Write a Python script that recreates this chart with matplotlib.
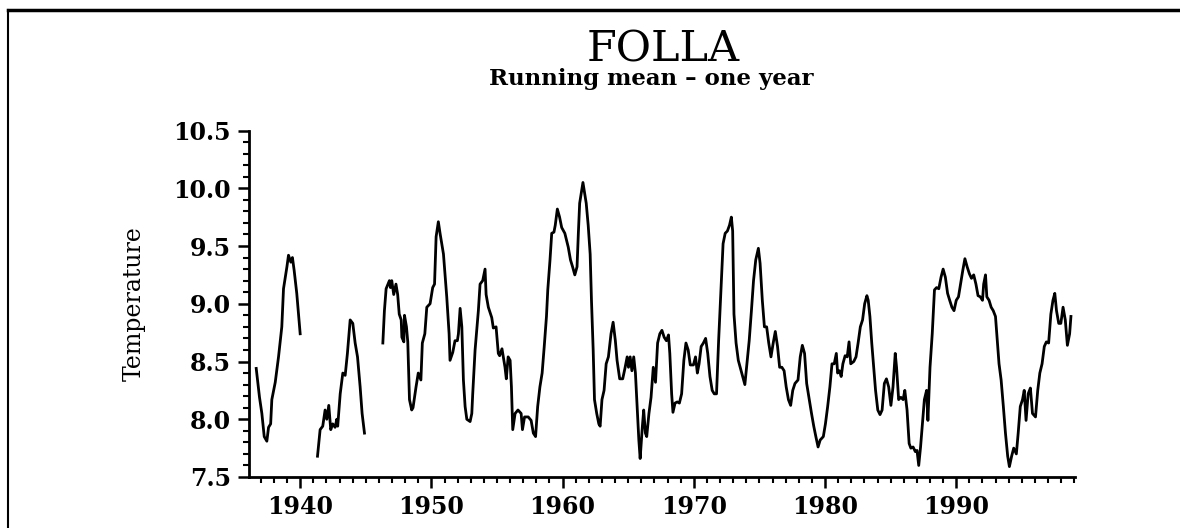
import numpy as np
import matplotlib
matplotlib.use("Agg")
from matplotlib import pyplot as plt
from matplotlib.lines import Line2D
from matplotlib.ticker import MultipleLocator

# Folla - løpende middel over ett år, nan = brudd i serien
years = [
    1936.65, 1936.9, 1937.08, 1937.26, 1937.46, 1937.59, 1937.75, 1937.84, 1938.1, 1938.35,
    1938.6, 1938.73, 1938.99, 1939.11, 1939.29, 1939.41, 1939.54, 1939.74, 1940.0,
    np.nan,
    1941.32, 1941.52, 1941.72, 1941.9, 1942.03, 1942.18, 1942.33, 1942.48, 1942.66, 1942.79,
    1942.86, 1943.05, 1943.25, 1943.43, 1943.6, 1943.81, 1944.01, 1944.19, 1944.37, 1944.57,
    1944.72, 1944.9,
    np.nan,
    1946.3, 1946.42, 1946.55, 1946.8, 1946.88, 1946.98, 1947.13, 1947.3, 1947.43, 1947.55,
    1947.7, 1947.75, 1947.9, 1947.95, 1948.1, 1948.2, 1948.33, 1948.5, 1948.6, 1948.83,
    1949.0, 1949.2, 1949.31, 1949.5, 1949.65, 1949.9, 1950.1, 1950.24, 1950.36, 1950.53,
    1950.66, 1950.92, 1951.17, 1951.35, 1951.42, 1951.63, 1951.8, 1951.98, 1952.06, 1952.19,
    1952.32, 1952.44, 1952.57, 1952.7, 1952.95, 1953.08, 1953.15, 1953.33, 1953.58, 1953.71,
    1953.91, 1954.09, 1954.17, 1954.34, 1954.6, 1954.72, 1954.93, 1955.1, 1955.2, 1955.38,
    1955.61, 1955.71, 1955.85, 1956.0, 1956.1, 1956.2, 1956.38, 1956.6, 1956.84, 1956.94,
    1957.1, 1957.38, 1957.6, 1957.77, 1957.94, 1958.1, 1958.27, 1958.44, 1958.6, 1958.77,
    1958.87, 1959.04, 1959.17, 1959.34, 1959.44, 1959.6, 1959.77, 1959.93, 1960.17, 1960.43,
    1960.6, 1960.76, 1960.93, 1961.1, 1961.2, 1961.3, 1961.55, 1961.8, 1961.95, 1962.1,
    1962.2, 1962.33, 1962.43, 1962.6, 1962.76, 1962.86, 1963.0, 1963.16, 1963.32, 1963.49,
    1963.69, 1963.85, 1964.02, 1964.15, 1964.35, 1964.58, 1964.75, 1964.92, 1965.02, 1965.15,
    1965.28, 1965.42, 1965.55, 1965.68, 1965.81, 1965.91, 1966.08, 1966.18, 1966.31, 1966.41,
    1966.58, 1966.74, 1966.91, 1967.08, 1967.24, 1967.41, 1967.57, 1967.74, 1967.91, 1968.07,
    1968.17, 1968.31, 1968.41, 1968.57, 1968.74, 1968.9, 1969.07, 1969.24, 1969.4, 1969.57,
    1969.73, 1969.97, 1970.13, 1970.27, 1970.4, 1970.56, 1970.73, 1970.9, 1971.06, 1971.23,
    1971.4, 1971.56, 1971.73, 1971.89, 1972.06, 1972.23, 1972.39, 1972.56, 1972.72, 1972.86,
    1972.96, 1973.06, 1973.22, 1973.39, 1973.65, 1973.89, 1974.05, 1974.22, 1974.39, 1974.55,
    1974.72, 1974.92, 1975.05, 1975.22, 1975.38, 1975.55, 1975.71, 1975.88, 1976.05, 1976.21,
    1976.38, 1976.54, 1976.71, 1976.88, 1977.04, 1977.21, 1977.38, 1977.54, 1977.71, 1977.94,
    1978.11, 1978.27, 1978.44, 1978.6, 1978.77, 1978.97, 1979.14, 1979.3, 1979.47, 1979.63,
    1979.87, 1980.03, 1980.2, 1980.37, 1980.53, 1980.7, 1980.86, 1980.96, 1981.1, 1981.23,
    1981.36, 1981.53, 1981.69, 1981.83, 1981.96, 1982.19, 1982.36, 1982.52, 1982.69, 1982.86,
    1983.02, 1983.19, 1983.29, 1983.42, 1983.56, 1983.69, 1983.85, 1984.02, 1984.19, 1984.35,
    1984.52, 1984.68, 1984.85, 1985.02, 1985.18, 1985.35, 1985.45, 1985.61, 1985.78, 1985.95,
    1986.08, 1986.25, 1986.41, 1986.54, 1986.71, 1986.88, 1987.01, 1987.14, 1987.28, 1987.41,
    1987.57, 1987.74, 1987.84, 1988.0, 1988.17, 1988.34, 1988.5, 1988.67, 1988.84, 1989.0,
    1989.17, 1989.34, 1989.5, 1989.67, 1989.83, 1990.0, 1990.17, 1990.33, 1990.5, 1990.66,
    1990.83, 1991.0, 1991.16, 1991.33, 1991.5, 1991.66, 1991.83, 1992.0, 1992.09, 1992.23,
    1992.33, 1992.5, 1992.66, 1992.82, 1992.99, 1993.09, 1993.26, 1993.42, 1993.59, 1993.75,
    1993.92, 1994.05, 1994.22, 1994.38, 1994.58, 1994.72, 1994.88, 1995.05, 1995.18, 1995.32,
    1995.48, 1995.65, 1995.81, 1996.04, 1996.21, 1996.37, 1996.54, 1996.71, 1996.87, 1997.04,
    1997.21, 1997.37, 1997.51, 1997.64, 1997.81, 1997.97, 1998.14, 1998.31, 1998.47, 1998.64,
    1998.74,
]
temps = [
    8.44, 8.19, 8.05, 7.85, 7.81, 7.93, 7.96, 8.17, 8.32, 8.54,
    8.80, 9.13, 9.32, 9.42, 9.36, 9.40, 9.29, 9.09, 8.74,
    np.nan,
    7.68, 7.91, 7.94, 8.08, 8.00, 8.12, 7.91, 7.96, 7.93, 8.00,
    7.94, 8.22, 8.40, 8.38, 8.57, 8.86, 8.83, 8.66, 8.54, 8.28,
    8.05, 7.88,
    np.nan,
    8.66, 8.94, 9.13, 9.20, 9.14, 9.20, 9.08, 9.17, 9.08, 8.91,
    8.86, 8.71, 8.67, 8.90, 8.80, 8.67, 8.17, 8.08, 8.10, 8.28,
    8.40, 8.34, 8.66, 8.74, 8.97, 9.00, 9.14, 9.17, 9.58, 9.71,
    9.61, 9.43, 9.06, 8.74, 8.51, 8.58, 8.68, 8.68, 8.74, 8.96,
    8.80, 8.34, 8.11, 8.00, 7.98, 8.05, 8.22, 8.60, 8.94, 9.17,
    9.20, 9.30, 9.08, 8.97, 8.88, 8.79, 8.80, 8.57, 8.55, 8.61,
    8.45, 8.35, 8.54, 8.51, 8.28, 7.91, 8.05, 8.08, 8.05, 7.91,
    8.02, 8.02, 7.99, 7.88, 7.85, 8.11, 8.28, 8.40, 8.63, 8.89,
    9.12, 9.38, 9.61, 9.62, 9.68, 9.82, 9.75, 9.66, 9.61, 9.49,
    9.38, 9.32, 9.25, 9.32, 9.61, 9.87, 10.05, 9.87, 9.68, 9.43,
    9.03, 8.60, 8.17, 8.05, 7.96, 7.94, 8.17, 8.25, 8.48, 8.54,
    8.74, 8.84, 8.68, 8.51, 8.35, 8.35, 8.44, 8.54, 8.45, 8.54,
    8.42, 8.54, 8.40, 8.11, 7.82, 7.66, 7.94, 8.08, 7.88, 7.85,
    8.05, 8.19, 8.45, 8.32, 8.66, 8.74, 8.77, 8.71, 8.68, 8.73,
    8.57, 8.22, 8.06, 8.14, 8.15, 8.14, 8.22, 8.51, 8.66, 8.60,
    8.47, 8.47, 8.54, 8.40, 8.48, 8.63, 8.66, 8.70, 8.57, 8.37,
    8.25, 8.22, 8.22, 8.68, 9.09, 9.52, 9.61, 9.63, 9.68, 9.75,
    9.63, 8.91, 8.66, 8.51, 8.40, 8.30, 8.48, 8.68, 8.94, 9.20,
    9.38, 9.48, 9.35, 9.03, 8.80, 8.80, 8.66, 8.54, 8.66, 8.76,
    8.63, 8.45, 8.45, 8.42, 8.28, 8.17, 8.12, 8.25, 8.31, 8.34,
    8.54, 8.64, 8.57, 8.31, 8.19, 8.05, 7.94, 7.85, 7.76, 7.82,
    7.85, 7.96, 8.11, 8.28, 8.48, 8.48, 8.57, 8.40, 8.42, 8.37,
    8.48, 8.55, 8.54, 8.67, 8.48, 8.50, 8.54, 8.66, 8.80, 8.86,
    9.00, 9.07, 9.03, 8.89, 8.66, 8.48, 8.25, 8.08, 8.04, 8.08,
    8.31, 8.35, 8.28, 8.12, 8.28, 8.57, 8.45, 8.17, 8.19, 8.17,
    8.25, 8.08, 7.79, 7.75, 7.76, 7.72, 7.73, 7.60, 7.76, 7.94,
    8.17, 8.25, 7.99, 8.45, 8.74, 9.12, 9.14, 9.13, 9.23, 9.30,
    9.23, 9.09, 9.03, 8.97, 8.94, 9.03, 9.06, 9.17, 9.29, 9.39,
    9.32, 9.26, 9.22, 9.25, 9.17, 9.07, 9.06, 9.03, 9.17, 9.25,
    9.06, 9.03, 8.97, 8.94, 8.89, 8.74, 8.48, 8.34, 8.11, 7.88,
    7.68, 7.59, 7.68, 7.75, 7.70, 7.88, 8.11, 8.17, 8.25, 7.99,
    8.22, 8.27, 8.05, 8.02, 8.25, 8.40, 8.48, 8.63, 8.67, 8.66,
    8.91, 9.03, 9.09, 8.94, 8.83, 8.83, 8.97, 8.86, 8.64, 8.74,
    8.89,
]

x_ticks = [1940, 1950, 1960, 1970, 1980, 1990]
y_ticks = [7.5, 8.0, 8.5, 9.0, 9.5, 10.0, 10.5]

serif = ["DejaVu Serif"]

fig = plt.figure(figsize=(11.8, 5.28), dpi=100)
ax = fig.add_axes([249 / 1180, 1 - 477 / 528, (1075 - 249) / 1180, (477 - 130.5) / 528])

ax.plot(years, temps, color="black", linewidth=2.0)

ax.set_xlim(1936.1, 1999.05)
ax.set_ylim(7.5, 10.5)

ax.spines["top"].set_visible(False)
ax.spines["right"].set_visible(False)
ax.spines["left"].set_linewidth(2)
ax.spines["bottom"].set_linewidth(2)

ax.set_xticks(x_ticks)
ax.set_yticks(y_ticks)
ax.set_yticklabels([f"{v:.1f}" for v in y_ticks])
ax.xaxis.set_minor_locator(MultipleLocator(1))
ax.yaxis.set_minor_locator(MultipleLocator(0.1))
ax.tick_params(which="major", direction="out", length=8, width=1.8, pad=5)
ax.tick_params(which="minor", direction="out", length=4, width=1.5)
for lab in ax.get_xticklabels() + ax.get_yticklabels():
    lab.set_family(serif)
    lab.set_fontsize(17)
    lab.set_fontweight("bold")

ax.set_ylabel("Temperature", family=serif, fontsize=17, labelpad=20)

fig.text(0.562, 1 - 62 / 528, "FOLLA", family=serif, fontsize=31,
         ha="center", va="baseline")
fig.text(0.552, 1 - 85 / 528, "Running mean \u2013 one year", family=serif,
         fontsize=16.5, fontweight="bold", ha="center", va="baseline")

# ramme fra den skannede siden
fig.add_artist(Line2D([8 / 1180, 1.0], [1 - 10 / 528, 1 - 10 / 528],
                      transform=fig.transFigure, color="black", linewidth=2.5))
fig.add_artist(Line2D([8 / 1180, 8 / 1180], [0.0, 1 - 10 / 528],
                      transform=fig.transFigure, color="black", linewidth=1.5))

fig.savefig("out.png", dpi=100)
